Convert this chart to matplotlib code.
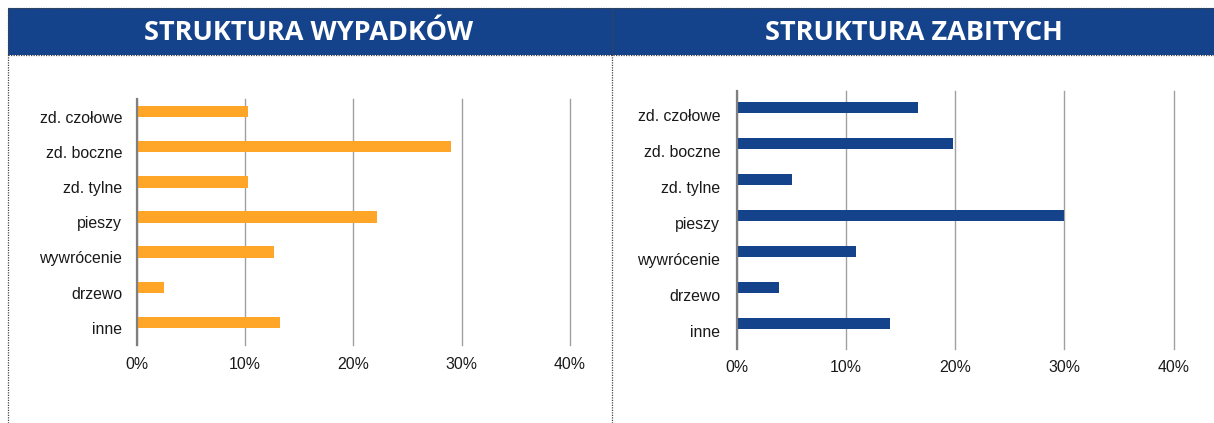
import matplotlib.pyplot as plt
from matplotlib.lines import Line2D
from matplotlib.patches import Rectangle
from matplotlib.ticker import FuncFormatter

# Accident structure by type of event (share in %)
categories = ["zd. czołowe", "zd. boczne", "zd. tylne", "pieszy",
              "wywrócenie", "drzewo", "inne"]
accidents_pct = [10.3, 29.0, 10.3, 22.2, 12.7, 2.5, 13.2]
killed_pct = [16.6, 19.8, 5.1, 30.0, 10.9, 3.9, 14.0]
x_ticks = [0, 10, 20, 30, 40]

titles = ["STRUKTURA WYPADKÓW", "STRUKTURA ZABITYCH"]

BLUE = "#15438B"
ORANGE = "#FFA629"

W, H = 1214, 423
plt.rcParams['font.family'] = ['Liberation Sans', 'DejaVu Sans']
fig = plt.figure(figsize=(W / 100, H / 100), dpi=100)


def px_box(x0, y0, x1, y1):
    # pixel box (top-left origin) -> figure fraction rect
    return [x0 / W, 1 - y1 / H, (x1 - x0) / W, (y1 - y0) / H]


def draw_panel(rect, values, color, ylim, bar_h, bar_shift, ylab_pad):
    ax = fig.add_axes(rect)
    ypos = list(range(len(categories)))
    # bars sit a little above the category centre
    ax.barh([y - bar_shift for y in ypos], values, height=bar_h,
            color=color, zorder=3)
    ax.set_xlim(0, 40)
    ax.set_ylim(*ylim)
    ax.set_xticks(x_ticks)
    ax.xaxis.set_major_formatter(FuncFormatter(lambda v, p: f"{v:.0f}%"))
    ax.set_yticks(ypos)
    ax.set_yticklabels(categories)
    ax.tick_params(axis='both', length=0, labelsize=11.4, colors="#1a1a1a")
    ax.tick_params(axis='y', pad=ylab_pad)
    ax.tick_params(axis='x', pad=8)
    for s in ["top", "right", "bottom"]:
        ax.spines[s].set_visible(False)
    ax.spines["left"].set_color("#7f7f7f")
    ax.spines["left"].set_linewidth(1.6)
    ax.spines["left"].set_zorder(4)
    ax.grid(axis='x', color="#a0a0a0", linewidth=1.0, zorder=0)
    ax.grid(axis='y', visible=False)
    for gl in ax.get_xgridlines():
        gl.set_clip_on(False)
    return ax


draw_panel(px_box(136.7, 99, 570, 345.4), accidents_pct, ORANGE,
           (6.5, -0.5), 0.33, 0.15, 10.5)
draw_panel(px_box(736.7, 91, 1173.5, 349), killed_pct, BLUE,
           (6.5, -0.667), 0.32, 0.21, 12)

# header band
fig.patches.append(Rectangle((7.5 / W, 1 - 55 / H), (W - 7.5) / W,
                             (55 - 8.3) / H, transform=fig.transFigure,
                             facecolor=BLUE, edgecolor="none", zorder=0))
fig.text(309 / W, 1 - 33 / H, titles[0], color="white", fontsize=19.5,
         fontweight="bold", family="Open Sans", ha="center", va="center")
fig.text(914 / W, 1 - 33 / H, titles[1], color="white", fontsize=19.5,
         fontweight="bold", family="Open Sans", ha="center", va="center")

# dotted frame lines
dot = dict(color="#444444", linewidth=0.9, linestyle=(0, (1, 1)),
           transform=fig.transFigure)
fig.add_artist(Line2D([7.5 / W, 1], [1 - 8.3 / H] * 2, **dot))
fig.add_artist(Line2D([7.5 / W, 1], [1 - 55 / H] * 2, **dot))
fig.add_artist(Line2D([7.5 / W] * 2, [0, 1 - 8.3 / H], **dot))
fig.add_artist(Line2D([612 / W] * 2, [0, 1 - 8.3 / H], **dot))

fig.savefig("out.png", dpi=100)
